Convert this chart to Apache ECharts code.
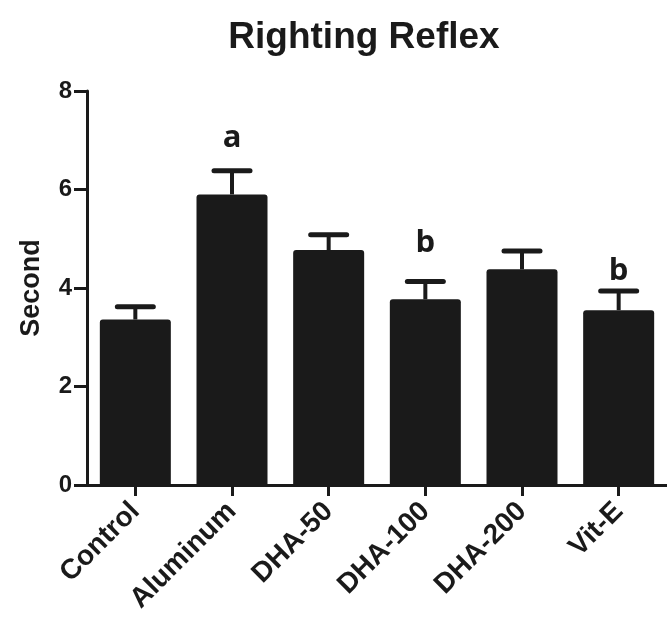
<!DOCTYPE html>
<html><head><meta charset="utf-8">
<script src="https://cdn.jsdelivr.net/npm/echarts@6/dist/echarts.min.js"></script>
<style>html,body{margin:0;padding:0;background:#fff}#c{width:667px;height:624px}</style>
</head><body><div id="c"></div>
<script>
var categories = ['Control', 'Aluminum', 'DHA-50', 'DHA-100', 'DHA-200', 'Vit-E'];
var means = [3.36, 5.90, 4.77, 3.77, 4.38, 3.55];
var errTops = [3.62, 6.38, 5.08, 4.13, 4.75, 3.94];
var letters = ['', 'a', '', 'b', '', 'b'];
var letterY = [0, 7.05, 0, 4.91, 0, 4.35];
var yTicks = [0, 2, 4, 6, 8];

var ink = '#1a1a1a';
var chart = echarts.init(document.getElementById('c'), null, {renderer: 'canvas'});
var errData = categories.map(function (c, i) { return [i, means[i], errTops[i], letters[i], letterY[i]]; });

chart.setOption({
  animation: false,
  title: {
    text: 'Righting Reflex', left: 359, top: 14, textAlign: 'center',
    textStyle: {fontFamily: 'Liberation Sans', fontWeight: 'bold', fontSize: 37, color: ink}
  },
  grid: {left: 87, right: -9, top: 91, bottom: 139, containLabel: false},
  xAxis: {
    type: 'category', data: categories,
    axisLine: {lineStyle: {color: ink, width: 3}},
    axisTick: {show: true, alignWithLabel: true, length: 11, lineStyle: {color: ink, width: 3}},
    axisLabel: {rotate: 45, margin: 22, fontFamily: 'Liberation Sans', fontWeight: 'bold', fontSize: 28, color: ink, interval: 0}
  },
  yAxis: {
    type: 'value', min: 0, max: 8, interval: 2,
    name: 'Second', nameLocation: 'middle', nameGap: 42, nameRotate: 90,
    nameTextStyle: {fontFamily: 'Liberation Sans', fontWeight: 'bold', fontSize: 27, color: ink},
    axisLine: {show: true, lineStyle: {color: ink, width: 3}},
    axisTick: {show: true, length: 13, lineStyle: {color: ink, width: 3}},
    axisLabel: {margin: 15, fontFamily: 'Liberation Sans', fontWeight: 'bold', fontSize: 24, color: ink,
      formatter: function (v) { return yTicks.indexOf(v) >= 0 ? String(v) : ''; }},
    splitLine: {show: false}
  },
  series: [
    {
      type: 'bar', data: means, barWidth: 71,
      itemStyle: {color: ink, borderRadius: [3, 3, 0, 0]}, z: 2
    },
    {
      type: 'custom', data: errData, z: 3,
      renderItem: function (params, api) {
        var i = api.value(0);
        var base = api.coord([i, api.value(1)]);
        var top = api.coord([i, api.value(2)]);
        var hw = 18;
        var children = [
          {type: 'line', shape: {x1: base[0], y1: base[1], x2: top[0], y2: top[1]},
           style: {stroke: ink, lineWidth: 4}},
          {type: 'line', shape: {x1: top[0] - hw, y1: top[1], x2: top[0] + hw, y2: top[1]},
           style: {stroke: ink, lineWidth: 5, lineCap: 'round'}}
        ];
        var letter = errData[params.dataIndex][3];
        if (letter) {
          var lp = api.coord([i, errData[params.dataIndex][4]]);
          children.push({type: 'text', x: lp[0], y: lp[1],
            style: {text: letter, align: 'center', verticalAlign: 'middle', fill: ink,
              font: 'bold 31px "Open Sans"'}});
        }
        return {type: 'group', children: children};
      }
    }
  ]
});
</script></body></html>
